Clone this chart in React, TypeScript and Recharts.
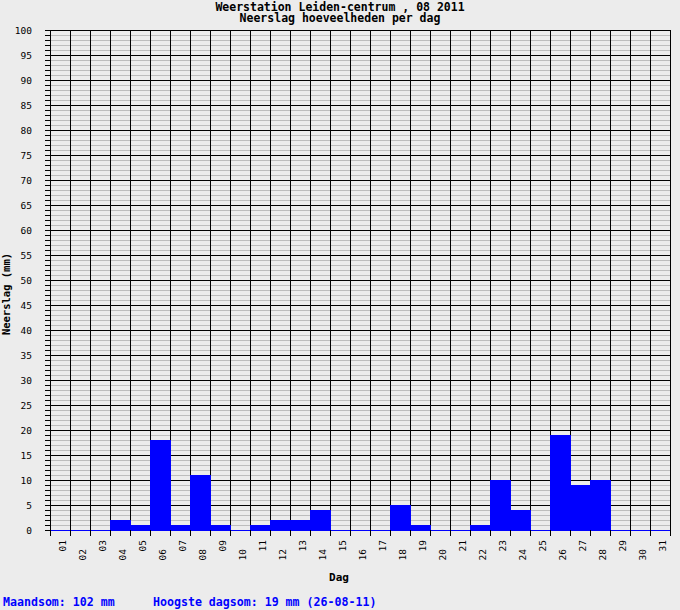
import { Bar, BarChart, CartesianGrid, XAxis, YAxis } from "recharts";

const days = [
  "01", "02", "03", "04", "05", "06", "07", "08", "09", "10",
  "11", "12", "13", "14", "15", "16", "17", "18", "19", "20",
  "21", "22", "23", "24", "25", "26", "27", "28", "29", "30", "31",
];

// neerslag per dag in mm
const rainfall = [
  0, 0, 0, 2, 1, 18, 1, 11, 1, 0,
  1, 2, 2, 4, 0, 0, 0, 5, 1, 0,
  0, 1, 10, 4, 0, 19, 9, 10, 0, 0, 0,
];

const majorTicks = [0, 5, 10, 15, 20, 25, 30, 35, 40, 45, 50, 55, 60, 65, 70, 75, 80, 85, 90, 95, 100];
const minorTicks = Array.from({ length: 101 }, (_, i) => i);
// day boundaries (grid + tick marks) and day centres (labels)
const edgeTicks = Array.from({ length: 32 }, (_, i) => i);
const labelTicks = Array.from({ length: 63 }, (_, i) => i / 2);

const titleLines = ["Weerstation Leiden-centrum , 08 2011", "Neerslag hoeveelheden per dag"];
const monthTotal = "Maandsom: 102 mm";
const maxDay = "Hoogste dagsom: 19 mm (26-08-11)";

const data = days.map((day, i) => ({ day, pos: i + 0.5, mm: rainfall[i] }));

const BG = "#ececec";
const MINOR = "#bdbdbd";
const BLUE = "#0000ff";
const MONO = "'DejaVu Sans Mono', 'Liberation Mono', monospace";

function YTick({ x, y, payload }: any) {
  if (payload.value % 5 !== 0) return <g />;
  return (
    <text x={x} y={y} textAnchor="end" dominantBaseline="central" fontFamily={MONO} fontSize={9.5} fill="#000">
      {payload.value}
    </text>
  );
}

function DayTick({ x, y, payload }: any) {
  const v = payload.value as number;
  if (Number.isInteger(v)) {
    return <line x1={x} y1={y} x2={x} y2={y + 6} stroke="#000" strokeWidth={1} />;
  }
  const idx = Math.floor(v);
  const top = y + (idx % 2 === 0 ? 10 : 19);
  const tx = x + 2;
  return (
    <text
      x={tx}
      y={top}
      transform={`rotate(-90 ${tx} ${top})`}
      textAnchor="end"
      dominantBaseline="central"
      fontFamily={MONO}
      fontSize={9.5}
      fill="#000"
    >
      {days[idx]}
    </text>
  );
}

export default function App() {
  return (
    <div style={{ position: "relative", width: 680, height: 610, background: BG }}>
      <style>{"body{margin:0} .recharts-wrapper svg line, .recharts-wrapper svg path, .recharts-wrapper svg rect{shape-rendering:crispEdges}"}</style>
      <BarChart
        width={680}
        height={610}
        data={data}
        margin={{ top: 30, right: 10, left: 0, bottom: 50 }}
        barCategoryGap={0}
      >
        <CartesianGrid vertical={false} horizontalValues={minorTicks} stroke={MINOR} />
        <CartesianGrid horizontalValues={majorTicks} verticalValues={edgeTicks} stroke="#000" />
        <XAxis
          dataKey="pos"
          type="number"
          domain={[0, 31]}
          ticks={labelTicks}
          interval={0}
          height={30}
          tickSize={0}
          tickMargin={0}
          tickLine={false}
          axisLine={{ stroke: BLUE }}
          tick={<DayTick />}
        />
        <YAxis
          domain={[0, 100]}
          ticks={minorTicks}
          interval={0}
          width={50}
          tickSize={5}
          tickMargin={13}
          tickLine={{ stroke: "#000" }}
          axisLine={{ stroke: "#000" }}
          tick={<YTick />}
        />
        <Bar dataKey="mm" fill={BLUE} stroke={BLUE} strokeWidth={1} isAnimationActive={false} />
      </BarChart>
      <svg
        width={680}
        height={610}
        style={{ position: "absolute", left: 0, top: 0, pointerEvents: "none" }}
      >
        <g fontFamily={MONO} fontWeight="bold" fontSize={11.5} fill="#000">
          <text x={340} y={6.5} textAnchor="middle" dominantBaseline="central">
            {titleLines[0]}
          </text>
          <text x={340} y={17.5} textAnchor="middle" dominantBaseline="central">
            {titleLines[1]}
          </text>
          <text x={339} y={577} textAnchor="middle" dominantBaseline="central" fontSize={11}>
            Dag
          </text>
          <text
            x={6}
            y={294}
            transform="rotate(-90 6 294)"
            textAnchor="middle"
            dominantBaseline="central"
            fontSize={10.5}
          >
            Neerslag (mm)
          </text>
        </g>
        <g fontFamily={MONO} fontWeight="bold" fontSize={11.6} fill={BLUE}>
          <text x={3} y={602} dominantBaseline="central">
            {monthTotal}
          </text>
          <text x={153} y={602} dominantBaseline="central">
            {maxDay}
          </text>
        </g>
      </svg>
    </div>
  );
}
